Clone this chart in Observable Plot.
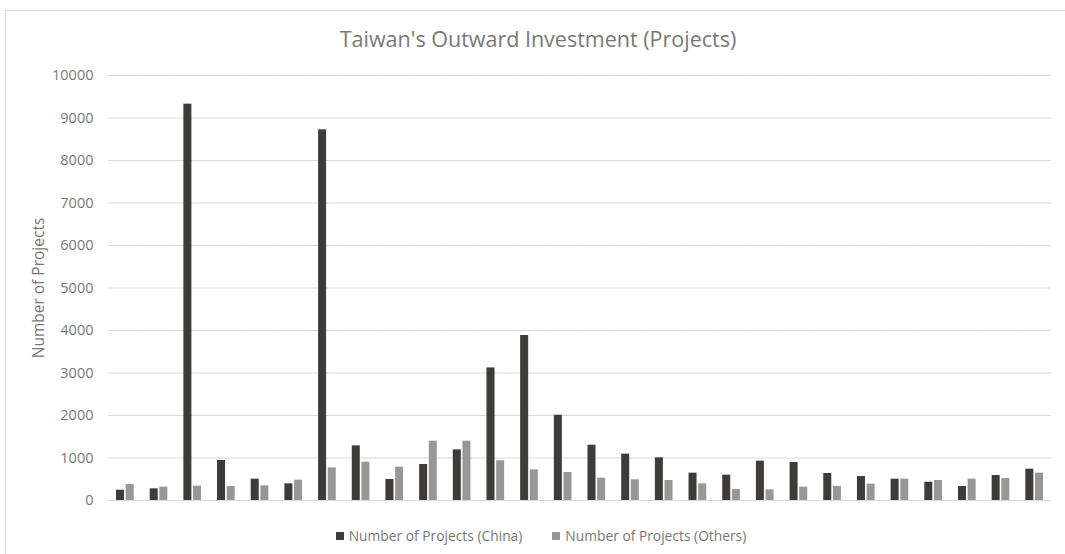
<!DOCTYPE html>
<html><head><meta charset="utf-8">
<script src="https://cdn.jsdelivr.net/npm/d3@7"></script>
<script src="https://cdn.jsdelivr.net/npm/@observablehq/plot@0.6"></script>
<style>
body{margin:0;background:#fff;font-family:"Open Sans",sans-serif;}
#wrap{position:relative;width:1065px;height:554px;overflow:hidden;background:#fff;}
#frame{position:absolute;left:5px;top:10px;width:1100px;height:600px;border:1px solid #d9d9d9;box-sizing:border-box;}
#title{position:absolute;left:0;width:1076px;top:28px;text-align:center;font-size:21.5px;color:#787878;line-height:1;white-space:nowrap;}
#chart{position:absolute;left:0;top:60px;}
#chart g[aria-label="y-axis label"]{font-size:15.5px;}
#chart g[aria-label="y-axis tick label"]{font-size:14.5px;}
#legend{position:absolute;left:0;width:1082px;top:527px;display:flex;justify-content:center;align-items:center;font-size:13.8px;color:#787878;line-height:18px;}
.item{display:flex;align-items:center;margin:0 15px;}
.sw{width:8px;height:8px;margin-right:5px;}
</style></head>
<body>
<div id="wrap">
  <div id="frame"></div>
  <div id="title"></div>
  <div id="chart"></div>
  <div id="legend"></div>
</div>
<script>
const title = "Taiwan's Outward Investment (Projects)";
const yLabel = "Number of Projects";
const years = [1991,1992,1993,1994,1995,1996,1997,1998,1999,2000,2001,2002,2003,2004,2005,2006,2007,2008,2009,2010,2011,2012,2013,2014,2015,2016,2017,2018];
const seriesNames = ["Number of Projects (China)", "Number of Projects (Others)"];
const chinaProjects = [243,274,9325,941,502,392,8721,1286,494,847,1192,3120,3882,2007,1301,1090,1003,643,596,925,894,635,564,502,431,329,588,737];
const otherProjects = [376,314,337,329,345,478,768,902,784,1396,1396,933,721,659,525,486,470,392,259,251,314,329,384,502,470,502,517,643];
const yTicks = [0,1000,2000,3000,4000,5000,6000,7000,8000,9000,10000];
const colors = ["#3f3b3a", "#979797"];

const data = [];
years.forEach((yr, i) => {
  data.push({year: yr, series: seriesNames[0], value: chinaProjects[i]});
  data.push({year: yr, series: seriesNames[1], value: otherProjects[i]});
});

document.getElementById("title").textContent = title;

const chart = Plot.plot({
  width: 1065,
  height: 455,
  marginTop: 15,
  marginBottom: 15,
  marginLeft: 108,
  marginRight: 14,
  style: {fontFamily: "Open Sans, sans-serif", fontSize: "13.5px", color: "#787878", background: "transparent"},
  fx: {domain: years, padding: 0, round: false, axis: null, label: null},
  x: {domain: seriesNames, paddingInner: 0.17, paddingOuter: 0.83, round: false, axis: null},
  y: {domain: [0, 10000], ticks: yTicks, tickSize: 0, tickPadding: 15, label: yLabel, labelAnchor: "center", labelOffset: 76, labelArrow: "none", tickFormat: d => String(d)},
  color: {domain: seriesNames, range: colors},
  marks: [
    Plot.ruleY(yTicks, {stroke: "#d9d9d9", strokeWidth: 1}),
    Plot.barY(data, {fx: "year", x: "series", y: "value", fill: "series"})
  ]
});
document.getElementById("chart").appendChild(chart);

const legend = document.getElementById("legend");
seriesNames.forEach((name, i) => {
  const it = document.createElement("div"); it.className = "item";
  const sw = document.createElement("div"); sw.className = "sw"; sw.style.background = colors[i];
  const tx = document.createElement("span"); tx.textContent = name;
  it.appendChild(sw); it.appendChild(tx); legend.appendChild(it);
});
</script>
</body></html>
